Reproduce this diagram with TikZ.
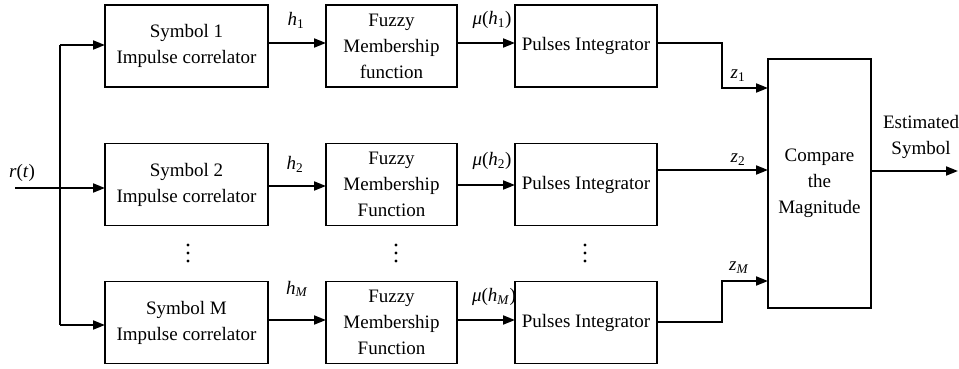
\documentclass[tikz,border=0pt]{standalone}
\usepackage{fontspec}
\setmainfont{Liberation Serif}
\usetikzlibrary{arrows.meta}
\tikzset{
  txt/.style={font=\fontsize{19}{26}\selectfont},
  blk/.style={txt, draw, line width=1.6pt, inner sep=0pt, outer sep=0pt,
              minimum height=82pt, align=center},
  corr/.style={blk, minimum width=163pt},
  fuzz/.style={blk, minimum width=131pt},
  integ/.style={blk, minimum width=142pt},
  lbl/.style={txt, inner sep=0pt, align=center},
  wire/.style={line width=1.8pt},
  arr/.style={wire, -{Triangle[length=12pt,width=9pt]}},
}
\begin{document}
\begin{tikzpicture}[x=1pt,y=-1pt]
\useasboundingbox (0,0) rectangle (959,369);

% correlator bank
\node[corr] (A1) at (186.5,46)  {Symbol 1\\Impulse correlator};
\node[corr] (A2) at (186.5,184.5) {Symbol 2\\Impulse correlator};
\node[corr] (A3) at (186.5,322.5) {Symbol M\\Impulse correlator};

% fuzzy membership stage
\node[fuzz] (F1) at (391.5,46)  {Fuzzy\\Membership\\function};
\node[fuzz] (F2) at (391.5,184.5) {Fuzzy\\Membership\\Function};
\node[fuzz] (F3) at (391.5,322.5) {Fuzzy\\Membership\\Function};

% integrators
\node[integ] (P1) at (586,46)  {Pulses Integrator};
\node[integ] (P2) at (586,184.5) {Pulses Integrator};
\node[integ] (P3) at (586,322.5) {Pulses Integrator};

% decision block
\node[blk, minimum width=103pt, minimum height=249pt] (C) at (819.5,183.5)
  {Compare\\the\\Magnitude};

% input and distribution trunk
\coordinate (in)   at (15,188);
\coordinate (tTop) at (60,45);
\coordinate (tBot) at (60,325);
\draw[wire] (tTop) -- (tBot);
\draw[arr] (in) -- (in -| A2.west);
\draw[arr] (tTop) -- (tTop -| A1.west);
\draw[arr] (tBot) -- (tBot -| A3.west);
\node[lbl] (rt) at (22,173) {\textit{r}(\textit{t})};

% row 1
\draw[arr] ([yshift=3pt]A1.east) -- ([yshift=3pt]F1.west);
\draw[arr] ([yshift=3pt]F1.east) -- ([yshift=3pt]P1.west);
\coordinate (k1) at (722,88);
\draw[arr] ([yshift=3pt]P1.east) -| (k1) -- (k1 -| C.west);

% row 2
\draw[arr] ([yshift=-1.5pt]A2.east) -- ([yshift=-1.5pt]F2.west);
\draw[arr] ([yshift=-0.5pt]F2.east) -- ([yshift=-0.5pt]P2.west);
\coordinate (z2) at ([yshift=14.5pt]P2.east);
\draw[arr] (z2) -- (z2 -| C.west);

% row M
\draw[arr] ([yshift=2.5pt]A3.east) -- ([yshift=2.5pt]F3.west);
\draw[arr] ([yshift=2.5pt]F3.east) -- ([yshift=2.5pt]P3.west);
\coordinate (kM) at (722,281);
\draw[arr] ([yshift=0.5pt]P3.east) -| (kM) -- (kM -| C.west);

% output
\coordinate (out) at (958,171);
\draw[arr] (C.east |- out) -- (out);
\node[lbl] (est) at (921,137) {Estimated\\Symbol};

% signal labels
\node[lbl] (h1) at (296,20)  {\textit{h}\textsubscript{1}};
\node[lbl] (h2) at (295,164) {\textit{h}\textsubscript{2}};
\node[lbl] (hM) at (297,289) {\textit{h}\textsubscript{\textit{M}}};
\node[lbl] (m1) at (492,20)  {\textit{μ}(\textit{h}\textsubscript{1})};
\node[lbl] (m2) at (492,161) {\textit{μ}(\textit{h}\textsubscript{2})};
\node[lbl] (mM) at (494,297) {\textit{μ}(\textit{h}\textsubscript{\textit{M}})};
\node[lbl] (z1l) at (738,76)  {\textit{z}\textsubscript{1}};
\node[lbl] (z2l) at (738,160) {\textit{z}\textsubscript{2}};
\node[lbl] (zMl) at (739,268) {\textit{z}\textsubscript{\textit{M}}};

% vertical ellipses between rows
\foreach \x in {188,396,585}
  \foreach \y in {245,253,261}
    \fill (\x,\y) circle (1.6pt);
\end{tikzpicture}
\end{document}
